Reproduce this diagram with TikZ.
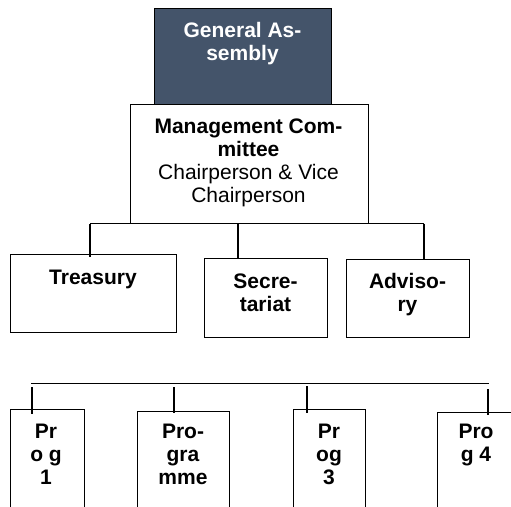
\documentclass[tikz,border=0pt]{standalone}
\usepackage{fontspec}
\setmainfont{Liberation Sans}
\definecolor{slate}{HTML}{44546A}
\begin{document}
\begin{tikzpicture}[x=1pt,y=-1pt,
  box/.style={draw, line width=1.4pt, inner sep=0pt, anchor=north west},
  lbl/.style={font=\bfseries\fontsize{21}{23}\selectfont, align=center, inner sep=0pt, anchor=base},
  conn/.style={line width=1.1pt}]
\useasboundingbox (0,0) rectangle (511,506);
\clip (0,0) rectangle (511,506);
% boxes
\node[box, fill=slate, minimum width=177pt, minimum height=96pt] (ga) at (154,8) {};
\node[box, fill=white, minimum width=238pt, minimum height=119pt] (mc) at (130,104) {};
\node[box, minimum width=166pt, minimum height=78pt] (tre) at (10,254) {};
\node[box, minimum width=123pt, minimum height=79pt] (sec) at (204,258) {};
\node[box, minimum width=123pt, minimum height=78pt] (adv) at (346,258.5) {};
\node[box, minimum width=74pt, minimum height=120pt] (p1) at (10,409) {};
\node[box, minimum width=92pt, minimum height=120pt] (p2) at (137,411) {};
\node[box, minimum width=72pt, minimum height=120pt] (p3) at (293,409) {};
\node[box, minimum width=78pt, minimum height=120pt] (p4) at (437,412) {};
% texts (anchor base = baseline of the last line)
\node[lbl, text=white] (gat) at (242.5,60.5) {General As-\\sembly};
\node[lbl] (mct) at (248.5,202.3) {Management Com-\\mittee\\\mdseries Chairperson \& Vice\\\mdseries Chairperson};
\node[lbl] (tret) at (93,284) {Treasury};
\node[lbl] (sect) at (265.5,311) {Secre-\\tariat};
\node[lbl] (advt) at (407.5,311) {Adviso-\\ry};
\node[lbl] (p1t) at (46,484) {Pr\\o g\\1};
\node[lbl] (p2t) at (183,484) {Pro-\\gra\\mme};
\node[lbl] (p3t) at (329,484) {Pr\\og\\3};
\node[lbl] (p4t) at (476,461) {Pro\\g 4};
% upper connectors
\coordinate (b1) at (90,223.7);
\coordinate (b2) at (238,223.7);
\coordinate (b3) at (424,223.7);
\coordinate (e1) at (90,257);
\coordinate (e2) at (238,259);
\coordinate (e3) at (424,259);
\draw[conn] (b1) -- (b3);
\draw[conn] (b1) -- (e1);
\draw[conn] (b2) -- (e2);
\draw[conn] (b3) -- (e3);
% lower connectors
\coordinate (l1) at (31,383.5);
\coordinate (l2) at (489,383.5);
\draw[conn] (l1) -- (l2);
\coordinate (s1) at (32,387); \coordinate (t1) at (32,414);
\coordinate (s2) at (174,387); \coordinate (t2) at (174,413);
\coordinate (s3) at (307,386); \coordinate (t3) at (307,413);
\coordinate (s4) at (488,389); \coordinate (t4) at (488,415);
\draw[conn] (s1) -- (t1);
\draw[conn] (s2) -- (t2);
\draw[conn] (s3) -- (t3);
\draw[conn] (s4) -- (t4);
\end{tikzpicture}
\end{document}
